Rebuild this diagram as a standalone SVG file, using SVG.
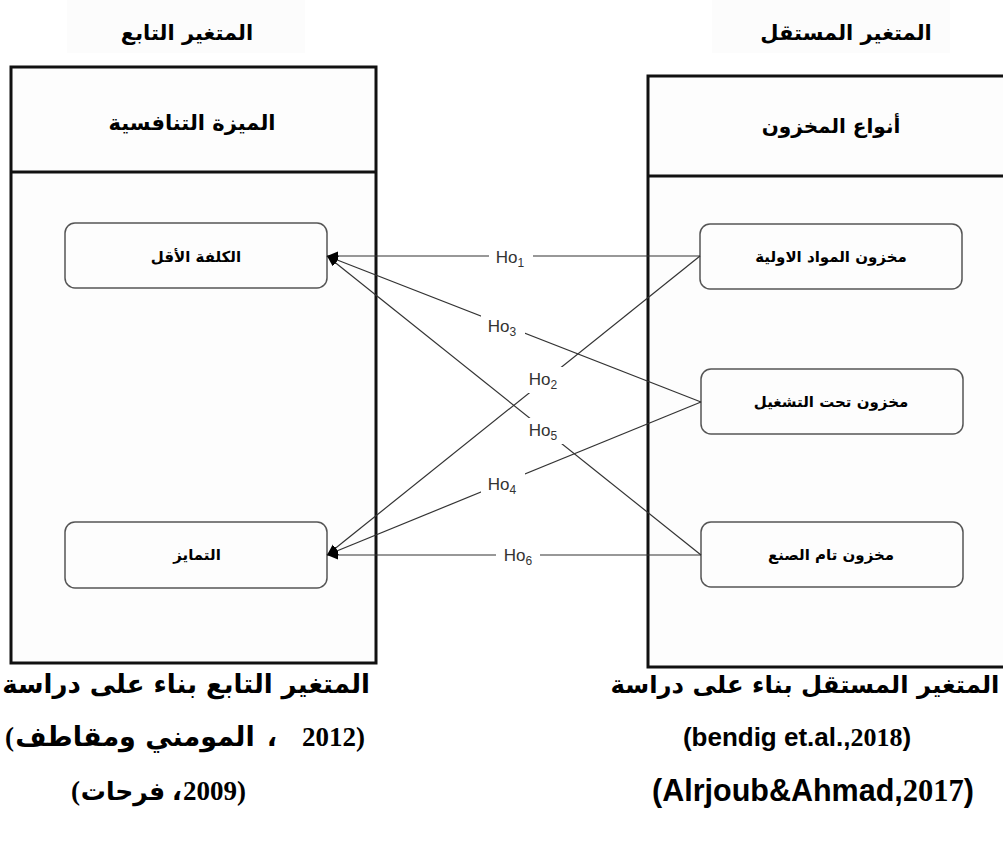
<svg xmlns="http://www.w3.org/2000/svg" width="1003" height="843" viewBox="0 0 1003 843">
  <style>
    .frame { fill: #fdfdfd; stroke: #111; stroke-width: 3; }
    .divider { stroke: #111; stroke-width: 3; }
    .node { fill: #fdfdfd; stroke: #555; stroke-width: 1.5; }
    .ar { font-family: "DejaVu Sans", sans-serif; font-weight: bold; fill: #000; }
    .title { font-size: 21px; }
    .head { font-size: 21px; }
    .nodetext { font-size: 15px; }
    .cap { font-family: "Liberation Serif", "DejaVu Sans", serif; font-weight: bold; font-size: 27px; fill: #000; }
    .capar { font-family: "DejaVu Sans", sans-serif; font-weight: bold; font-size: 26px; fill: #000; }
    .latin { font-family: "Liberation Sans", sans-serif; font-weight: bold; }
    .link { stroke: #333; stroke-width: 1.2; fill: none; }
    .lbl { font-family: "Liberation Sans", Arial, sans-serif; font-size: 17px; fill: #333; }
    .sub { font-size: 12px; }
    .lblbg { fill: #ffffff; }
  </style>
  <defs>
    <marker id="arrow" markerUnits="userSpaceOnUse" markerWidth="12" markerHeight="10" refX="11" refY="4.5" orient="auto">
      <path d="M0,0 L11,4.5 L0,9 Z" fill="#000"/>
    </marker>
  </defs>

  <rect width="1003" height="843" fill="#ffffff"/>

  <!-- column titles -->
  <g id="title-dependent">
    <rect x="67" y="0" width="238" height="53" fill="#fcfcfc"/>
    <text class="ar title" x="187" y="40" text-anchor="middle">المتغير التابع</text>
  </g>
  <g id="title-independent">
    <rect x="712" y="0" width="238" height="53" fill="#fcfcfc"/>
    <text class="ar title" x="846" y="40" text-anchor="middle">المتغير المستقل</text>
  </g>

  <!-- left container: competitive advantage -->
  <g id="box-dependent">
    <rect class="frame" x="11" y="67" width="365" height="596"/>
    <line class="divider" x1="11" y1="172" x2="376" y2="172"/>
    <text class="ar head" x="192" y="130" text-anchor="middle">الميزة التنافسية</text>
  </g>

  <!-- right container: inventory types -->
  <g id="box-independent">
    <rect class="frame" x="648" y="76" width="370" height="591"/>
    <line class="divider" x1="648" y1="176" x2="1010" y2="176"/>
    <text class="ar head" x="831" y="133" text-anchor="middle" style="font-size:20px">أنواع المخزون</text>
  </g>

  <!-- dependent variable nodes -->
  <g id="node-lowest-cost">
    <rect class="node" x="65" y="223" width="262" height="65" rx="10"/>
    <text class="ar nodetext" x="196" y="262" text-anchor="middle">الكلفة الأقل</text>
  </g>
  <g id="node-differentiation">
    <rect class="node" x="65" y="522" width="262" height="66" rx="10"/>
    <text class="ar nodetext" x="197" y="560" text-anchor="middle">التمايز</text>
  </g>

  <!-- independent variable nodes -->
  <g id="node-raw-materials">
    <rect class="node" x="700" y="224" width="262" height="65" rx="10"/>
    <text class="ar nodetext" x="831" y="262" text-anchor="middle">مخزون المواد الاولية</text>
  </g>
  <g id="node-work-in-progress">
    <rect class="node" x="701" y="369" width="262" height="65" rx="10"/>
    <text class="ar nodetext" x="831" y="407" text-anchor="middle">مخزون تحت التشغيل</text>
  </g>
  <g id="node-finished-goods">
    <rect class="node" x="701" y="522" width="262" height="65" rx="10"/>
    <text class="ar nodetext" x="831" y="560" text-anchor="middle">مخزون تام الصنع</text>
  </g>

  <!-- hypothesis connectors -->
  <g id="connectors">
    <line class="link" x1="700" y1="256" x2="327" y2="256" marker-end="url(#arrow)"/>
    <line class="link" x1="700" y1="256" x2="327" y2="555" marker-end="url(#arrow)"/>
    <line class="link" x1="701" y1="402" x2="327" y2="256" marker-end="url(#arrow)"/>
    <line class="link" x1="701" y1="402" x2="327" y2="555" marker-end="url(#arrow)"/>
    <line class="link" x1="701" y1="555" x2="327" y2="256" marker-end="url(#arrow)"/>
    <line class="link" x1="701" y1="555" x2="327" y2="555" marker-end="url(#arrow)"/>

    <rect class="lblbg" x="489" y="245" width="44" height="24"/>
    <text class="lbl" x="510" y="263" text-anchor="middle">Ho<tspan class="sub" dy="4">1</tspan></text>

    <rect class="lblbg" x="481" y="314" width="44" height="26"/>
    <text class="lbl" x="502" y="332" text-anchor="middle">Ho<tspan class="sub" dy="4">3</tspan></text>

    <rect class="lblbg" x="522" y="367" width="44" height="26"/>
    <text class="lbl" x="543" y="385" text-anchor="middle">Ho<tspan class="sub" dy="4">2</tspan></text>

    <rect class="lblbg" x="522" y="418" width="44" height="26"/>
    <text class="lbl" x="543" y="436" text-anchor="middle">Ho<tspan class="sub" dy="4">5</tspan></text>

    <rect class="lblbg" x="481" y="472" width="44" height="26"/>
    <text class="lbl" x="502" y="490" text-anchor="middle">Ho<tspan class="sub" dy="4">4</tspan></text>

    <rect class="lblbg" x="496" y="543" width="44" height="24"/>
    <text class="lbl" x="518" y="561" text-anchor="middle">Ho<tspan class="sub" dy="4">6</tspan></text>
  </g>

  <!-- source notes under the containers; LRM marks keep brackets and years left-to-right -->
  <g id="note-dependent">
    <text class="capar" x="186" y="693" text-anchor="middle">المتغير  التابع بناء على دراسة</text>
    <!-- line 2: (المومني ومقاطف ، 2012) -->
    <text class="cap" x="5" y="746">&#x200E;(&#x200E;</text>
    <text class="capar" x="135" y="746" text-anchor="middle" style="font-size:27px">المومني ومقاطف</text>
    <text class="cap" x="272" y="746" text-anchor="middle">،</text>
    <text class="cap" x="365" y="746" text-anchor="end">&#x200E;2012)&#x200E;</text>
    <!-- line 3: (فرحات ،2009) -->
    <text class="cap" x="71" y="800">&#x200E;(&#x200E;</text>
    <text class="capar" x="123" y="800" text-anchor="middle" style="font-size:25px">فرحات</text>
    <text class="cap" x="177" y="800" text-anchor="middle">،</text>
    <text class="cap" x="246" y="800" text-anchor="end">&#x200E;2009)&#x200E;</text>
  </g>
  <g id="note-independent">
    <text class="capar" x="805" y="693" text-anchor="middle" style="font-size:24.3px">المتغير  المستقل بناء على دراسة</text>
    <text class="cap" x="797" y="746" text-anchor="middle" style="font-size:26px"><tspan class="latin">(bendig et.al.,</tspan>2018<tspan class="latin">)</tspan></text>
    <text class="cap" x="813" y="801" text-anchor="middle" style="font-size:30.5px"><tspan class="latin">(Alrjoub&amp;Ahmad,</tspan>2017<tspan class="latin">)</tspan></text>
  </g>
</svg>
